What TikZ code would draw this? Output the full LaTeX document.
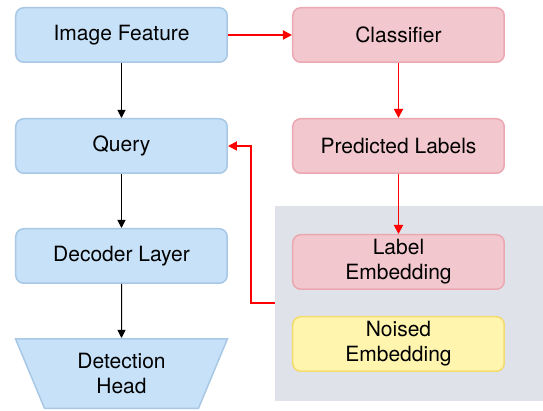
\documentclass[tikz,border=0pt]{standalone}
\usepackage{fontspec}
\setmainfont{TeX Gyre Heros}
\usetikzlibrary{arrows.meta,positioning,shapes.geometric,calc,fit,backgrounds}
\definecolor{BlueFill}{HTML}{C6E1F8}
\definecolor{BlueLine}{HTML}{A8C8E6}
\definecolor{PinkFill}{HTML}{F2C7CE}
\definecolor{PinkLine}{HTML}{ECA8B2}
\definecolor{YellowFill}{HTML}{FFF5AE}
\definecolor{YellowLine}{HTML}{F4DB70}
\definecolor{GreyFill}{HTML}{DFE2E9}

\begin{document}
\begin{tikzpicture}[
    font=\fontsize{10.5}{12.5}\selectfont,
    box/.style={rounded corners=4pt, line width=0.75pt, minimum width=105.75pt, minimum height=27.25pt, align=center, inner sep=2pt},
    bluebox/.style={box, fill=BlueFill, draw=BlueLine},
    pinkbox/.style={box, fill=PinkFill, draw=PinkLine},
    yellowbox/.style={box, fill=YellowFill, draw=YellowLine},
    headbox/.style={trapezium, trapezium stretches body, shape border rotate=180, trapezium angle=57, minimum width=106pt, minimum height=34.75pt, fill=BlueFill, draw=BlueLine, line width=0.75pt, align=center, inner sep=1pt},
    flow/.style={-{Triangle[length=4pt,width=4pt]}, line width=0.5pt},
    redflow/.style={-{Triangle[length=4.5pt,width=4.5pt]}, draw=red, line width=0.9pt}
  ]
  \useasboundingbox (0,0) rectangle (271.5pt,-205.5pt);

  % left column
  \node[bluebox] (feature) at (60.75pt,-17.5pt) {Image Feature};
  \node[bluebox, below=27.5pt of feature] (query) {Query};
  \node[bluebox, below=27pt of query] (decoder) {Decoder Layer};
  \node[headbox, below=27pt of decoder] (head) {Detection\\Head};

  % right column
  \node[pinkbox, right=32pt of feature] (classifier) {Classifier};
  \node[pinkbox, below=27.5pt of classifier] (predicted) {Predicted Labels};
  \node[pinkbox, below=30pt of predicted] (labelemb) {Label\\Embedding};
  \node[yellowbox, below=13pt of labelemb] (noised) {Noised\\Embedding};

  \begin{scope}[on background layer]
    \node[fill=GreyFill, inner sep=0pt, fit={($(labelemb.north west)+(-8.5pt,14pt)$) ($(noised.south east)+(19pt,-14.5pt)$)}] (group) {};
  \end{scope}
  \coordinate (gap) at ($(labelemb.south)!0.5!(noised.north)$);
  \coordinate (bend) at ($(query.east)+(11.5pt,0)$);

  \draw[flow] (feature) -- (query);
  \draw[flow] (query) -- (decoder);
  \draw[flow] (decoder) -- (head);
  \draw[redflow] (feature) -- (classifier);
  \draw[redflow] (classifier) -- (predicted);
  \draw[redflow] (predicted) -- (labelemb);
  \draw[redflow] (group.west |- gap) -| (bend) -- (query.east);
\end{tikzpicture}
\end{document}
